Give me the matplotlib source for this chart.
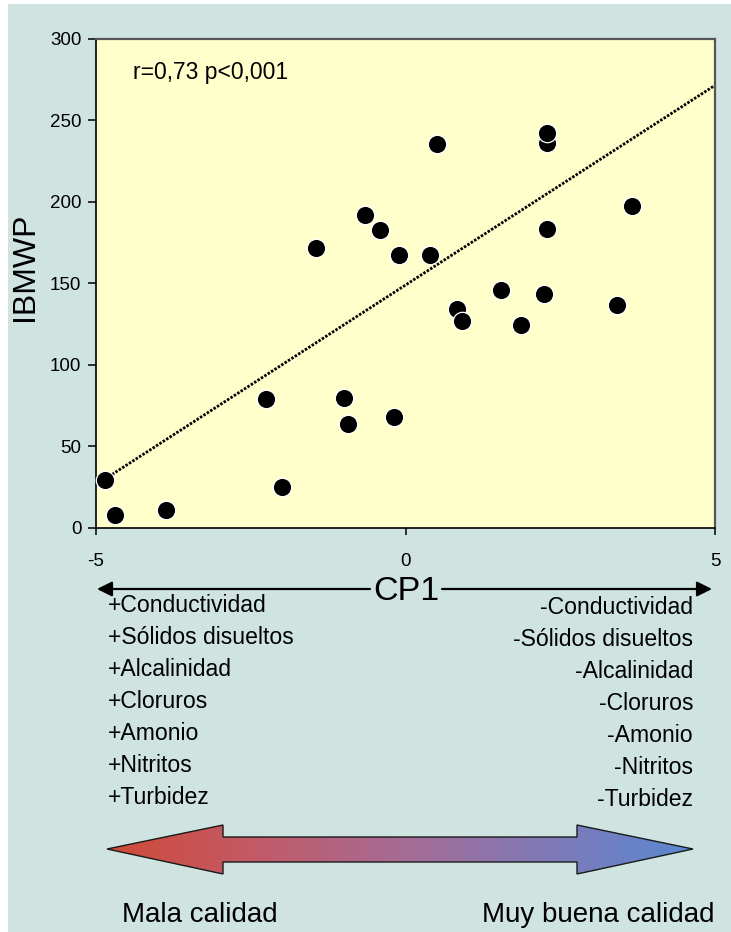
import numpy as np
import matplotlib
matplotlib.use("Agg")
import matplotlib.pyplot as plt
from matplotlib.patches import Polygon, Rectangle
from matplotlib.colors import LinearSegmentedColormap

plt.rcParams['font.family'] = ['Liberation Sans', 'DejaVu Sans']

# ---------------- data ----------------
cp1 = [-4.85, -4.70, -3.87, -2.25, -2.00, -1.44, -1.00, -0.93, -0.65, -0.42,
       -0.19, -0.11, 0.40, 0.51, 0.84, 0.92, 1.55, 1.87, 2.24, 2.28,
       2.28, 2.29, 3.41, 3.66]
ibmwp = [29.3, 7.6, 10.9, 79.2, 24.8, 171.7, 79.8, 63.7, 192.0, 182.7,
         68.1, 167.4, 167.0, 235.4, 134.0, 127.0, 146.0, 124.0, 143.5, 236.0,
         242.0, 183.0, 136.7, 197.5]
trend_slope = 24.5
trend_intercept = 148.8
x_ticks = [-5, 0, 5]
x_tick_labels = ["-5", "0", "5"]
y_ticks = [0, 50, 100, 150, 200, 250, 300]
annotation = "r=0,73 p<0,001"
left_labels = ["+Conductividad", "+Sólidos disueltos", "+Alcalinidad", "+Cloruros",
               "+Amonio", "+Nitritos", "+Turbidez"]
right_labels = ["-Conductividad", "-Sólidos disueltos", "-Alcalinidad", "-Cloruros",
                "-Amonio", "-Nitritos", "-Turbidez"]
quality_labels = ["Mala calidad", "Muy buena calidad"]

# ---------------- figure ----------------
W, H = 731, 932
BG = "#cfe4e1"
fig = plt.figure(figsize=(W / 100, H / 100), dpi=100, facecolor=BG)

# white margin strips (left and top)
fig.patches.append(Rectangle((0, 0), 8 / W, 1, transform=fig.transFigure,
                             facecolor="white", edgecolor="none", zorder=-5))
fig.patches.append(Rectangle((0, 1 - 4 / H), 1, 4 / H, transform=fig.transFigure,
                             facecolor="white", edgecolor="none", zorder=-5))

# overlay axes in pixel coordinates for decorations
ov = fig.add_axes([0, 0, 1, 1], zorder=0)
ov.set_xlim(0, W)
ov.set_ylim(H, 0)
ov.axis("off")
ov.patch.set_alpha(0)

# main axes
left_px, right_px, top_px, bot_px = 96, 715, 38.5, 527.7
ax = fig.add_axes([left_px / W, 1 - bot_px / H, (right_px - left_px) / W,
                   (bot_px - top_px) / H], zorder=1)
ax.set_facecolor("#ffffcc")
ax.set_xlim(-5, 5)
ax.set_ylim(0, 300)

# trend line
tx = np.array([min(cp1), 5.0])
ax.plot(tx, trend_intercept + trend_slope * tx, color="black", lw=2.0,
        ls=(0, (0.9, 0.55)), zorder=2, solid_capstyle="butt")

ax.scatter(cp1, ibmwp, s=175, c="black", edgecolors="white", linewidths=0.9,
           zorder=3, clip_on=False)

ax.set_xticks(x_ticks)
ax.set_xticklabels(x_tick_labels)
ax.set_yticks(y_ticks)
ax.tick_params(axis="x", direction="out", length=5, width=1.1, pad=13, labelsize=13.5)
ax.tick_params(axis="y", direction="out", length=6, width=1.1, pad=4.5, labelsize=13.5)
for s in ["left", "bottom"]:
    ax.spines[s].set_color("black")
    ax.spines[s].set_linewidth(1.2)
for s in ["top", "right"]:
    ax.spines[s].set_color("#555555")
    ax.spines[s].set_linewidth(1.6)

ov.text(25, 267, "IBMWP", fontsize=23, rotation=90, ha="center", va="center")
ax.text(0.06, 0.93, annotation, transform=ax.transAxes, fontsize=16.5,
        ha="left", va="center")

# CP1 axis label with arrows
ov.text(406, 592, "CP1", fontsize=24.5, ha="center", va="center")
arrow_kw = dict(arrowstyle="-|>,head_length=0.9,head_width=0.45", color="black",
                lw=1.6, shrinkA=0, shrinkB=0)
ov.annotate("", xy=(97, 589), xytext=(370, 589), arrowprops=arrow_kw)
ov.annotate("", xy=(712, 589), xytext=(442, 589), arrowprops=arrow_kw)

# variable lists
left_y = [605, 637, 669, 701, 733, 766, 798]
right_y = [607, 639, 671, 703, 735, 768, 800]
for lab, yy in zip(left_labels, left_y):
    ov.text(108, yy, lab, fontsize=16.6, ha="left", va="center")
for lab, yy in zip(right_labels, right_y):
    ov.text(693, yy, lab, fontsize=16.6, ha="right", va="center")

# gradient double arrow
pts = [(107, 849), (223, 825), (223, 837), (577, 837), (577, 825), (693, 849),
       (577, 874), (577, 862), (223, 862), (223, 874)]
poly = Polygon(pts, closed=True, facecolor="none", edgecolor="#1a1a1a", lw=1.0, zorder=3)
ov.add_patch(poly)
cmap = LinearSegmentedColormap.from_list("q", ["#cf4a38", "#c25a66", "#a66b94", "#8079b6", "#5a88d2"])
grad = np.linspace(0, 1, 256).reshape(1, -1)
im = ov.imshow(grad, cmap=cmap, aspect="auto", extent=(107, 693, 874, 825), zorder=2)
im.set_clip_path(poly)

ov.text(122, 915, quality_labels[0], fontsize=20, ha="left", va="center")
ov.text(715, 915, quality_labels[1], fontsize=20, ha="right", va="center")

ov.set_xlim(0, W)
ov.set_ylim(H, 0)

fig.savefig("out.png", dpi=100, facecolor=BG)
